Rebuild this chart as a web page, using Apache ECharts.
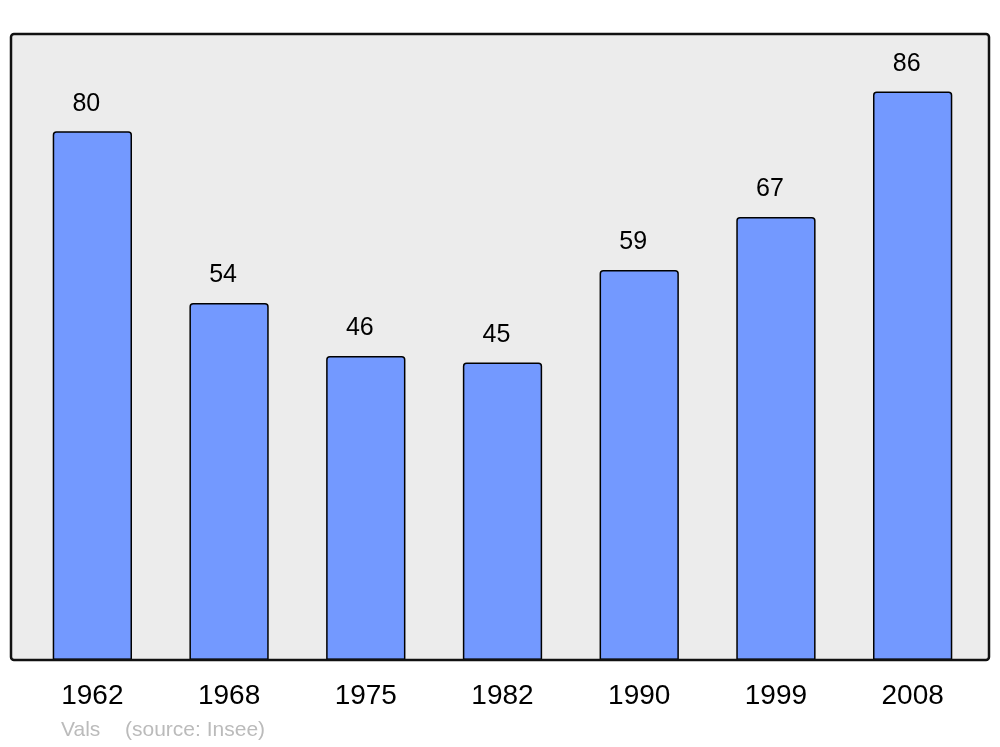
<!DOCTYPE html>
<html>
<head>
<meta charset="utf-8">
<script src="https://cdn.jsdelivr.net/npm/echarts@6/dist/echarts.min.js"></script>
<style>
  html, body { margin: 0; padding: 0; background: #fff; }
  #chart { width: 1000px; height: 747px; }
</style>
</head>
<body>
<div id="chart"></div>
<script>
const years = ['1962', '1968', '1975', '1982', '1990', '1999', '2008']
const population = [80, 54, 46, 45, 59, 67, 86]

const chart = echarts.init(document.getElementById('chart'))

const option = {
  animation: false,
  textStyle: { fontFamily: 'Liberation Sans, Arial, sans-serif' },
  grid: { left: 24, right: 19, top: 34, bottom: 87 },
  xAxis: {
    type: 'category',
    data: years,
    axisLine: { show: false },
    axisTick: { show: false },
    axisLabel: { color: '#000', fontSize: 28, margin: 22 }
  },
  yAxis: {
    type: 'value',
    min: 0,
    max: 94.7,
    show: false,
    splitLine: { show: false }
  },
  graphic: [
    {
      type: 'rect',
      z: -1,
      shape: { x: 11, y: 34, width: 978, height: 626, r: 3 },
      style: { fill: '#ececec', stroke: null }
    },
    {
      type: 'rect',
      z: 10,
      shape: { x: 11, y: 34, width: 978, height: 626, r: 3 },
      style: { fill: null, stroke: '#111', lineWidth: 2.5 }
    },
    {
      type: 'text',
      left: 61,
      top: 720,
      style: { text: 'Vals', fill: '#bbb', fontSize: 21, fontFamily: 'Liberation Sans, Arial, sans-serif' }
    },
    {
      type: 'text',
      left: 125,
      top: 720,
      style: { text: '(source: Insee)', fill: '#bbb', fontSize: 21, fontFamily: 'Liberation Sans, Arial, sans-serif' }
    }
  ],
  series: [
    {
      type: 'bar',
      data: population,
      barWidth: '58%',
      itemStyle: {
        color: '#7399ff',
        borderColor: '#000',
        borderWidth: 1.5,
        borderRadius: [3, 3, 0, 0]
      },
      label: {
        show: true,
        position: 'top',
        distance: 15,
        offset: [-6, 0],
        color: '#000',
        fontSize: 25
      }
    }
  ]
}

chart.setOption(option)
</script>
</body>
</html>
